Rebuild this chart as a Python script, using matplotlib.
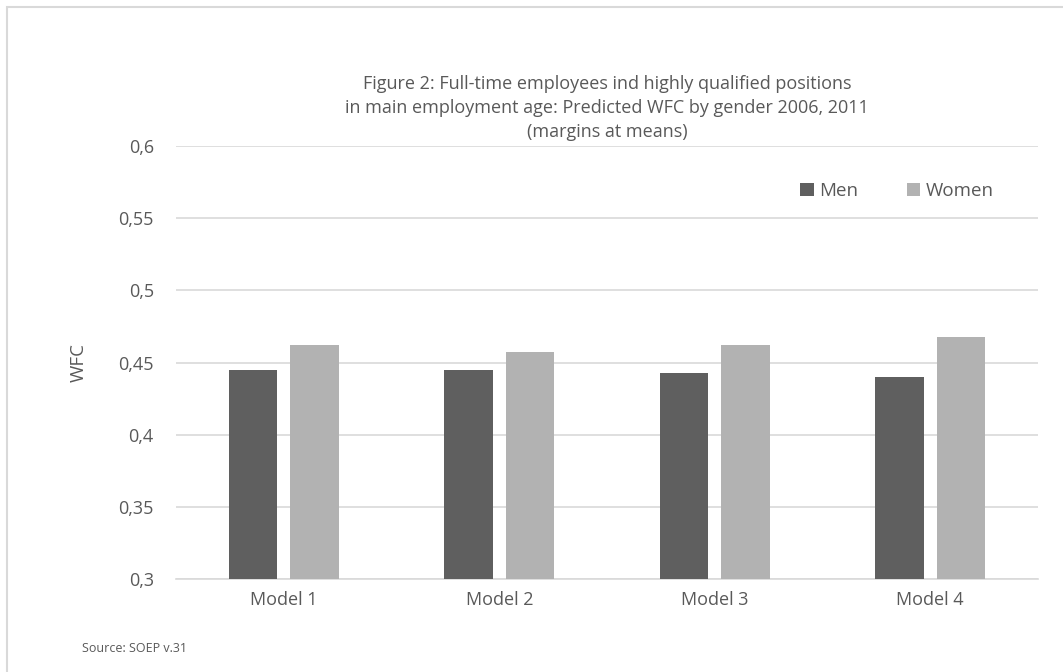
import matplotlib
matplotlib.use("Agg")
import matplotlib.pyplot as plt
from matplotlib.patches import Rectangle
import numpy as np

categories = ["Model 1", "Model 2", "Model 3", "Model 4"]
men = [0.4449, 0.4451, 0.4424, 0.4400]
women = [0.4618, 0.4574, 0.4623, 0.4676]
yticks = [0.3, 0.35, 0.4, 0.45, 0.5, 0.55, 0.6]
ytick_labels = ["0,3", "0,35", "0,4", "0,45", "0,5", "0,55", "0,6"]

plt.rcParams['font.family'] = ['Open Sans', 'DejaVu Sans']
txt = '#595959'

W, H = 1063, 672
fig = plt.figure(figsize=(W/100, H/100), dpi=100)
ax = fig.add_axes([176/W, 1-578.7/H, (1038-176)/W, (578.7-146.3)/H])

x = np.arange(len(categories))
bw = 0.225
off = 0.1425
ax.bar(x - off, men, bw, color='#5f5f5f', label='Men', zorder=3)
ax.bar(x + off, women, bw, color='#b2b2b2', label='Women', zorder=3)

ax.set_xlim(-0.5, len(categories) - 0.5)
ax.set_ylim(0.3, 0.6)
ax.set_yticks(yticks)
ax.set_yticklabels(ytick_labels)
ax.set_xticks(x)
ax.set_xticklabels(categories)
ax.tick_params(axis='both', length=0, labelsize=13, colors=txt)
ax.tick_params(axis='y', pad=16)
ax.tick_params(axis='x', pad=9)
for s in ['top', 'right', 'left']:
    ax.spines[s].set_visible(False)
ax.spines['bottom'].set_color('#d9d9d9')
ax.spines['bottom'].set_linewidth(1.2)
ax.yaxis.grid(True, color='#d9d9d9', linewidth=1.2, zorder=0)
ax.set_axisbelow(True)
ax.set_ylabel("WFC", fontsize=13.5, color=txt, labelpad=22)

leg = ax.legend(loc='center left', bbox_to_anchor=(800/W, 1-191/H),
                bbox_transform=fig.transFigure, ncol=2, borderpad=0, borderaxespad=0,
                frameon=False, fontsize=13.5, handlelength=0.72, handleheight=0.72,
                columnspacing=2.6, handletextpad=0.28, labelcolor=txt)

fig.text(607/W, 1-108/H,
         "Figure 2: Full-time employees ind highly qualified positions\n"
         "in main employment age: Predicted WFC by gender 2006, 2011\n"
         "(margins at means)",
         ha='center', va='center', fontsize=13, color=txt, linespacing=1.4)

fig.text(82/W, 1-648/H, "Source: SOEP v.31", ha='left', va='center', fontsize=9, color=txt)

fig.patches.append(Rectangle((7/W, -0.1), 1.2, 1.1 - 7/H, transform=fig.transFigure,
                             fill=False, edgecolor='#d9d9d9', linewidth=1.5))

fig.savefig("out.png", dpi=100)
